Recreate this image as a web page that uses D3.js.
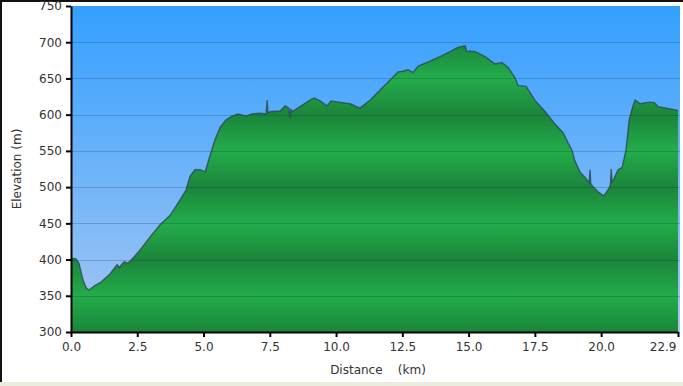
<!DOCTYPE html>
<html>
<head>
<meta charset="utf-8">
<script src="https://cdnjs.cloudflare.com/ajax/libs/d3/7.8.5/d3.min.js"></script>
<style>
    body { margin: 0; background: #fff; }
    text { font-family: "DejaVu Sans", Verdana, sans-serif; }
</style>
</head>
<body>
<div id="chart-container"></div>
<script>
// elevation profile
var distKm = [0.00, 0.19, 0.30, 0.45, 0.57, 0.68, 0.90, 1.10, 1.47, 1.74, 1.82, 2.00, 2.15, 2.34, 2.60, 2.98,
    3.36, 3.74, 4.11, 4.34, 4.49, 4.68, 4.87, 5.06, 5.25, 5.43, 5.62, 5.85, 6.08, 6.30, 6.60, 6.83,
    7.13, 7.36, 7.40, 7.43, 7.50, 7.89, 8.08, 8.22, 8.26, 8.30, 8.34, 8.64, 9.02, 9.17, 9.40, 9.66,
    9.81, 10.15, 10.53, 10.90, 11.28, 11.66, 12.04, 12.34, 12.53, 12.72, 12.90, 13.10, 13.55, 13.92,
    14.30, 14.60, 14.87, 14.92, 15.25, 15.62, 16.00, 16.26, 16.49, 16.75, 16.87, 17.17, 17.50, 17.89,
    18.26, 18.57, 18.75, 18.90, 19.00, 19.20, 19.40, 19.55, 19.58, 19.61, 19.66, 19.90, 20.10, 20.26,
    20.35, 20.38, 20.41, 20.50, 20.64, 20.79, 20.94, 21.06, 21.20, 21.28, 21.47, 21.77, 22.00, 22.15,
    22.60, 22.90];
var elevM = [402, 401, 395, 372, 361, 358, 364, 368, 380, 393, 389, 397, 395, 402, 413, 431,
    448, 461, 482, 496, 515, 524, 524, 521, 544, 565, 582, 593, 598, 601, 598, 601,
    602, 601, 620, 602, 604, 605, 612, 609, 595, 608, 604, 611, 620, 623, 619, 612,
    619, 617, 615, 609, 620, 634, 648, 659, 660, 662, 658, 667, 674, 680,
    687, 693, 695, 688, 687, 680, 670, 672, 665, 651, 640, 639, 620, 604,
    587, 575, 561, 551, 537, 521, 513, 506, 524, 505, 502, 493, 488, 496,
    503, 525, 506, 513, 524, 527, 551, 593, 612, 620, 615, 617, 617, 611,
    608, 606];

var xTicks = [0, 2.5, 5, 7.5, 10, 12.5, 15, 17.5, 20, 22.9];
var yTicks = [300, 350, 400, 450, 500, 550, 600, 650, 700, 750];

var profile = distKm.map(function (d, i) { return { dist: d, elev: elevM[i] }; });

var margin = { top: 6, right: 4, bottom: 54, left: 71 },
    fullWidth = 683,
    fullHeight = 386,
    width = fullWidth - margin.left - margin.right,
    height = fullHeight - margin.top - margin.bottom;

var x = d3.scaleLinear().domain([0, 22.9]).range([0, 607]);
var y = d3.scaleLinear().domain([300, 750]).range([height, 0]);

var svg = d3.select("#chart-container")
    .append("svg")
    .attr("width", fullWidth)
    .attr("height", fullHeight);

// frame bits: dark edge top/left, beige strip at the bottom
svg.append("rect").attr("width", fullWidth).attr("height", fullHeight).attr("fill", "#fff");
svg.append("rect").attr("x", 0).attr("y", 382).attr("width", fullWidth).attr("height", 4).attr("fill", "#ecebdd");
svg.append("rect").attr("x", 0).attr("y", 0).attr("width", 2).attr("height", 382).attr("fill", "#111");
svg.append("rect").attr("x", 0).attr("y", 0).attr("width", fullWidth).attr("height", 2).attr("fill", "#111");

var defs = svg.append("defs");

var sky = defs.append("linearGradient")
    .attr("id", "sky")
    .attr("x1", 0).attr("x2", 0).attr("y1", 0).attr("y2", 1);
sky.append("stop").attr("offset", "0%").attr("stop-color", "#34a0ff");
sky.append("stop").attr("offset", "100%").attr("stop-color", "#a6c6f3");

// green bands, dark on every hundred, light on the fifties
var ground = defs.append("linearGradient")
    .attr("id", "ground")
    .attr("gradientUnits", "userSpaceOnUse")
    .attr("spreadMethod", "repeat")
    .attr("x1", 0).attr("x2", 0)
    .attr("y1", y(300)).attr("y2", y(400));
ground.append("stop").attr("offset", "0%").attr("stop-color", "#1b853a");
ground.append("stop").attr("offset", "50%").attr("stop-color", "#23ac4b");
ground.append("stop").attr("offset", "100%").attr("stop-color", "#1b853a");

var plot = svg.append("g")
    .attr("transform", "translate(" + margin.left + "," + margin.top + ")");

plot.append("rect")
    .attr("width", x(22.9) + 2)
    .attr("height", height)
    .attr("fill", "url(#sky)");

var area = d3.area()
    .x(function (d) { return x(d.dist); })
    .y0(height)
    .y1(function (d) { return y(d.elev); });

var line = d3.line()
    .x(function (d) { return x(d.dist); })
    .y(function (d) { return y(d.elev); });

plot.append("path")
    .datum(profile)
    .attr("d", area)
    .attr("fill", "url(#ground)");

// grid lines
plot.selectAll(".grid")
    .data(yTicks.slice(1, -1))
    .enter()
    .append("line")
    .attr("class", "grid")
    .attr("x1", 0)
    .attr("x2", x(22.9) + 2)
    .attr("y1", function (d) { return Math.round(y(d)) + 0.5; })
    .attr("y2", function (d) { return Math.round(y(d)) + 0.5; })
    .attr("stroke", "#0a2a3a")
    .attr("stroke-opacity", 0.22);

plot.append("path")
    .datum(profile)
    .attr("d", line)
    .attr("fill", "none")
    .attr("stroke", "#2c4654")
    .attr("stroke-opacity", 0.8)
    .attr("stroke-width", 1.4);

// axes
var xAxis = d3.axisBottom(x)
    .tickValues(xTicks)
    .tickFormat(d3.format(".1f"))
    .tickSize(5)
    .tickSizeOuter(0);

var yAxis = d3.axisLeft(y)
    .tickValues(yTicks)
    .tickSize(5)
    .tickSizeOuter(0);

var gx = plot.append("g")
    .attr("transform", "translate(0," + height + ")")
    .call(xAxis);

var gy = plot.append("g")
    .call(yAxis);

[gx, gy].forEach(function (g) {
    g.select(".domain").attr("stroke", "#000").attr("stroke-width", 2);
    g.selectAll(".tick line").attr("stroke", "#000").attr("stroke-width", 2);
    g.selectAll(".tick text").attr("fill", "#333").style("font-size", "12px");
});
gx.selectAll(".tick text").attr("dy", "0.9em");
// last label sits left of its tick so it stays inside the frame
gx.selectAll(".tick text")
    .filter(function (d) { return d === 22.9; })
    .attr("text-anchor", "end")
    .attr("x", -2);
gy.selectAll(".tick text").attr("x", -9);

// axis titles
svg.append("text")
    .attr("transform", "rotate(-90)")
    .attr("x", -(margin.top + height / 2))
    .attr("y", 21)
    .attr("text-anchor", "middle")
    .attr("fill", "#333")
    .style("font-size", "12px")
    .text("Elevation (m)");

svg.append("text")
    .attr("x", 378)
    .attr("y", 374)
    .attr("text-anchor", "middle")
    .attr("fill", "#333")
    .style("font-size", "12px")
    .style("white-space", "pre")
    .attr("xml:space", "preserve")
    .text("Distance    (km)");
</script>
</body>
</html>
